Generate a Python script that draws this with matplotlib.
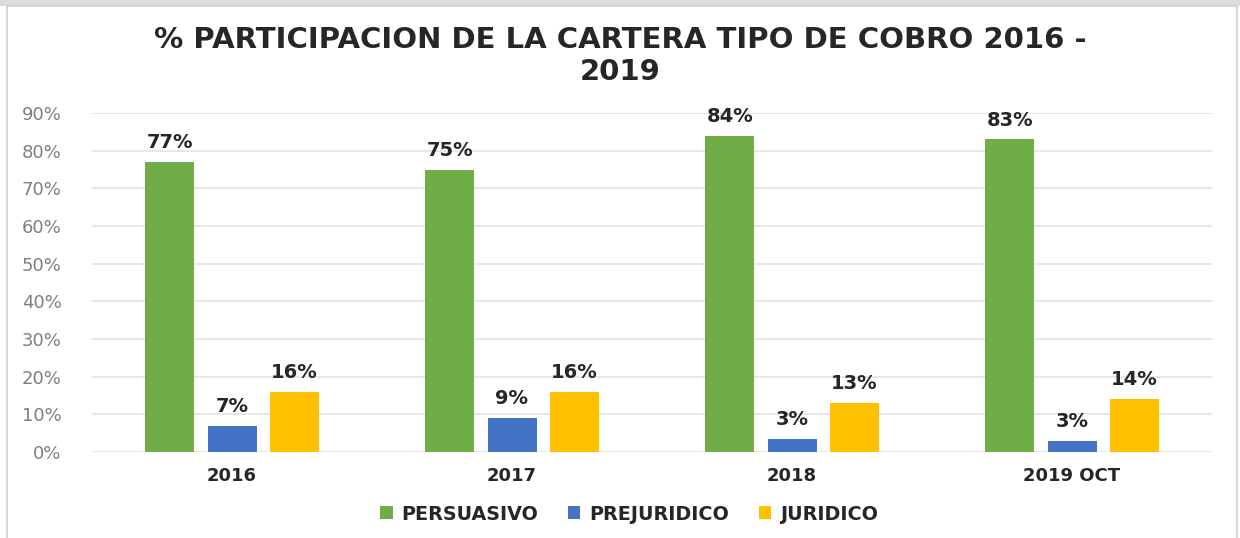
import matplotlib
matplotlib.use("Agg")
import matplotlib.pyplot as plt
import numpy as np
from matplotlib.patches import Rectangle

categories = ["2016", "2017", "2018", "2019 OCT"]
series_names = ["PERSUASIVO", "PREJURIDICO", "JURIDICO"]
persuasivo = [77, 75, 84, 83]
prejuridico = [7, 9, 3.4, 2.9]
juridico = [16, 16, 13, 14]
colors = ["#70AD47", "#4472C4", "#FFC000"]
yticks = [0, 10, 20, 30, 40, 50, 60, 70, 80, 90]

W, H = 1240, 538
fig = plt.figure(figsize=(W / 100, H / 100), dpi=100, facecolor="white")

# outer frame / top band
fig.patches.append(Rectangle((0, 1 - 6 / H), 1, 6 / H, transform=fig.transFigure,
                             facecolor="#dcdcdc", edgecolor="none", zorder=-5))
fig.patches.append(Rectangle((7 / W, -0.01), (1237 - 7) / W, 1 - 6 / H + 0.01, transform=fig.transFigure,
                             facecolor="white", edgecolor="#d0d0d0", linewidth=1.2, zorder=-4))

ax = fig.add_axes([92 / W, 1 - 452 / H, (1212 - 92) / W, (452 - 113) / H])
ax.set_facecolor("none")
x = np.arange(len(categories))
bw = 0.175
step = 0.222
series = [persuasivo, prejuridico, juridico]
for i, (vals, name, c) in enumerate(zip(series, series_names, colors)):
    xs = x + (i - 1) * step
    ax.bar(xs, vals, width=bw, color=c, label=name, zorder=3)
    for xi, v in zip(xs, vals):
        ax.text(xi, v + 2.6, f"{v:.0f}%", ha="center", va="bottom",
                fontsize=14, fontweight="bold", color="#262626",
                family="DejaVu Sans", zorder=4)

ax.set_xlim(-0.5, len(categories) - 0.5)
ax.set_ylim(0, 90)
ax.set_yticks(yticks)
ax.set_yticklabels([f"{t}%" for t in yticks], color="#7f7f7f", fontsize=13, family="DejaVu Sans")
ax.set_xticks(x)
ax.set_xticklabels(categories, fontsize=13, fontweight="bold", color="#262626", family="DejaVu Sans")
ax.tick_params(axis="both", length=0)
ax.tick_params(axis="y", pad=22)
ax.tick_params(axis="x", pad=11)
ax.grid(axis="y", color="#e3e3e3", linewidth=1.2, zorder=0)
for s in ax.spines.values():
    s.set_visible(False)

fig.text(620 / W, 1 - 56 / H, "% PARTICIPACION DE LA CARTERA TIPO DE COBRO 2016 -\n2019",
         ha="center", va="center", fontsize=21, fontweight="bold", color="#262626",
         family="DejaVu Sans", linespacing=1.2)

leg = fig.legend(loc="center", bbox_to_anchor=(629 / W, 1 - 514 / H), ncol=3, frameon=False,
                 prop={"size": 13.8, "weight": "bold", "family": "DejaVu Sans"},
                 handlelength=0.65, handleheight=0.65, handletextpad=0.45, columnspacing=1.55)
for t in leg.get_texts():
    t.set_color("#262626")

fig.savefig("out.png", dpi=100, facecolor=fig.get_facecolor())
